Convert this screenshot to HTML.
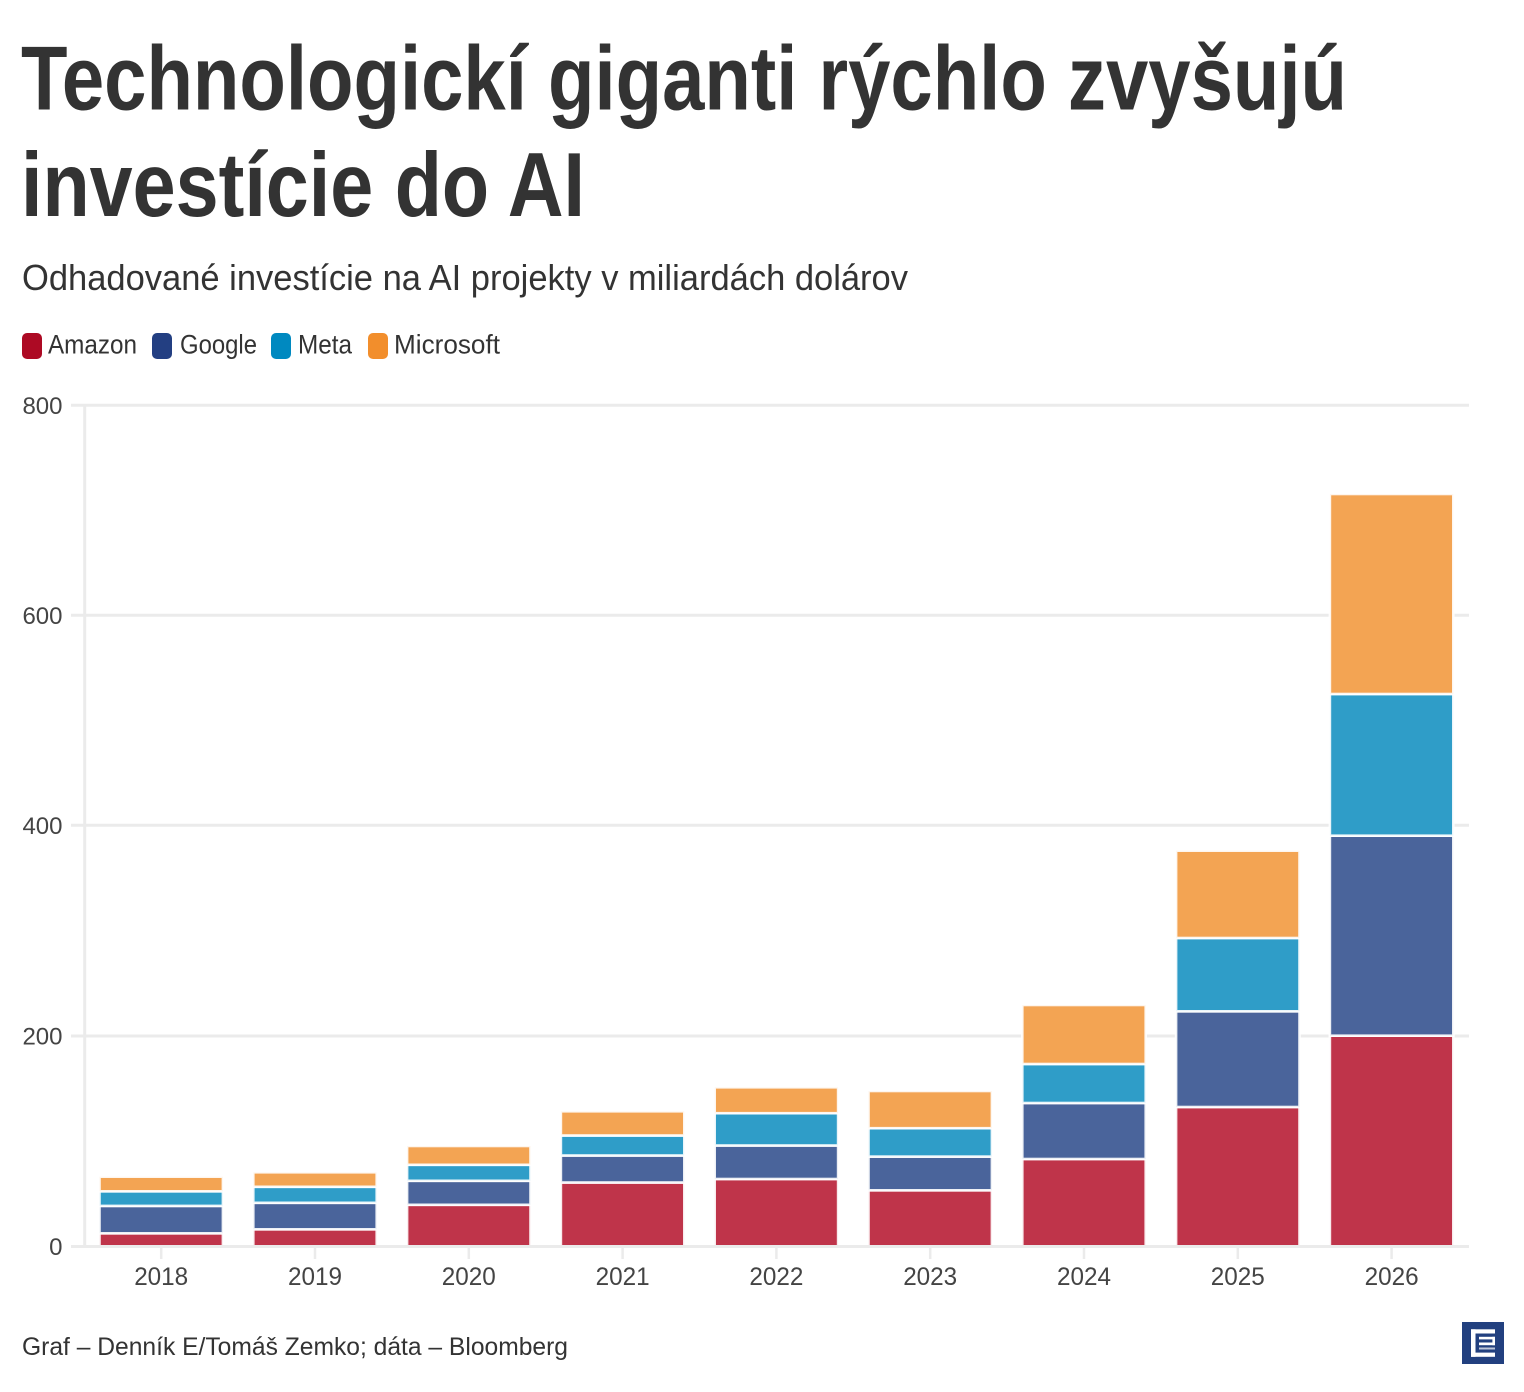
<!DOCTYPE html>
<html><head><meta charset="utf-8"><style>
html,body{margin:0;padding:0;background:#fff;}
svg{display:block;}
</style></head><body>
<svg width="1524" height="1392" viewBox="0 0 1524 1392" xmlns="http://www.w3.org/2000/svg" font-family="'Liberation Sans', 'DejaVu Sans', sans-serif">
<rect width="1524" height="1392" fill="#fff"/>
<!-- Title -->
<text x="21" y="109.5" font-size="91" font-weight="bold" fill="#333333" textLength="1326" lengthAdjust="spacingAndGlyphs">Technologickí giganti rýchlo zvyšujú</text>
<text x="21" y="216" font-size="91" font-weight="bold" fill="#333333" textLength="564" lengthAdjust="spacingAndGlyphs">investície do AI</text>
<!-- Subtitle -->
<text x="22" y="290" font-size="36" fill="#333333" textLength="886" lengthAdjust="spacingAndGlyphs">Odhadované investície na AI projekty v miliardách dolárov</text>
<!-- Legend -->
<rect x="22" y="333" width="20" height="26" rx="5" fill="#ad0a24"/>
<text x="48" y="353.5" font-size="26.5" fill="#333" textLength="89" lengthAdjust="spacingAndGlyphs">Amazon</text>
<rect x="152" y="333" width="20" height="26" rx="5" fill="#233f82"/>
<text x="180" y="353.5" font-size="26.5" fill="#333" textLength="77" lengthAdjust="spacingAndGlyphs">Google</text>
<rect x="271" y="333" width="20" height="26" rx="5" fill="#0089c0"/>
<text x="298" y="353.5" font-size="26.5" fill="#333" textLength="54" lengthAdjust="spacingAndGlyphs">Meta</text>
<rect x="368" y="333" width="20" height="26" rx="5" fill="#f28e2c"/>
<text x="394" y="353.5" font-size="26.5" fill="#333" textLength="106" lengthAdjust="spacingAndGlyphs">Microsoft</text>

<!-- Gridlines -->
<g stroke="#ebebeb" stroke-width="3">
<line x1="71" y1="405.3" x2="1469" y2="405.3"/>
<line x1="71" y1="615.3" x2="1469" y2="615.3"/>
<line x1="71" y1="825.3" x2="1469" y2="825.3"/>
<line x1="71" y1="1036" x2="1469" y2="1036"/>
<line x1="84.7" y1="404" x2="84.7" y2="1246"/>
</g>

<!-- Y labels -->
<g font-size="24" fill="#444" text-anchor="end">
<text x="62.5" y="413.8">800</text>
<text x="62.5" y="623.8">600</text>
<text x="62.5" y="833.8">400</text>
<text x="62.5" y="1044.5">200</text>
<text x="62.5" y="1255">0</text>
</g>

<!-- Bars -->
<g stroke="#ffffff" stroke-width="2.6" stroke-opacity="0.9">
<!-- 2018 c=161.6 -->
<rect x="99.5" y="1233.3" width="123.4" height="13" fill="#bf344a"/>
<rect x="99.5" y="1205.9" width="123.4" height="27.4" fill="#4a649b"/>
<rect x="99.5" y="1191.3" width="123.4" height="14.6" fill="#2f9dc8"/>
<rect x="99.5" y="1176.7" width="123.4" height="14.6" fill="#f3a453"/>
<!-- 2019 -->
<rect x="253.3" y="1229.3" width="123.4" height="17" fill="#bf344a"/>
<rect x="253.3" y="1202.8" width="123.4" height="26.5" fill="#4a649b"/>
<rect x="253.3" y="1186.8" width="123.4" height="16" fill="#2f9dc8"/>
<rect x="253.3" y="1172.3" width="123.4" height="14.5" fill="#f3a453"/>
<!-- 2020 -->
<rect x="407.1" y="1204.8" width="123.4" height="41.5" fill="#bf344a"/>
<rect x="407.1" y="1180.8" width="123.4" height="24" fill="#4a649b"/>
<rect x="407.1" y="1164.8" width="123.4" height="16" fill="#2f9dc8"/>
<rect x="407.1" y="1146" width="123.4" height="18.8" fill="#f3a453"/>
<!-- 2021 -->
<rect x="560.9" y="1182.5" width="123.4" height="63.8" fill="#bf344a"/>
<rect x="560.9" y="1155.5" width="123.4" height="27" fill="#4a649b"/>
<rect x="560.9" y="1135.5" width="123.4" height="20" fill="#2f9dc8"/>
<rect x="560.9" y="1111.3" width="123.4" height="24.2" fill="#f3a453"/>
<!-- 2022 -->
<rect x="714.7" y="1179" width="123.4" height="67.3" fill="#bf344a"/>
<rect x="714.7" y="1145.5" width="123.4" height="33.5" fill="#4a649b"/>
<rect x="714.7" y="1113.2" width="123.4" height="32.3" fill="#2f9dc8"/>
<rect x="714.7" y="1087.3" width="123.4" height="25.9" fill="#f3a453"/>
<!-- 2023 -->
<rect x="868.5" y="1190.3" width="123.4" height="56" fill="#bf344a"/>
<rect x="868.5" y="1156.6" width="123.4" height="33.7" fill="#4a649b"/>
<rect x="868.5" y="1128.2" width="123.4" height="28.4" fill="#2f9dc8"/>
<rect x="868.5" y="1091" width="123.4" height="37.2" fill="#f3a453"/>
<!-- 2024 -->
<rect x="1022.3" y="1159" width="123.4" height="87.3" fill="#bf344a"/>
<rect x="1022.3" y="1103" width="123.4" height="56" fill="#4a649b"/>
<rect x="1022.3" y="1064" width="123.4" height="39" fill="#2f9dc8"/>
<rect x="1022.3" y="1005" width="123.4" height="59" fill="#f3a453"/>
<!-- 2025 -->
<rect x="1176.1" y="1107" width="123.4" height="139.3" fill="#bf344a"/>
<rect x="1176.1" y="1011.3" width="123.4" height="95.7" fill="#4a649b"/>
<rect x="1176.1" y="938" width="123.4" height="73.3" fill="#2f9dc8"/>
<rect x="1176.1" y="850.7" width="123.4" height="87.3" fill="#f3a453"/>
<!-- 2026 -->
<rect x="1329.9" y="1035.7" width="123.4" height="210.6" fill="#bf344a"/>
<rect x="1329.9" y="835.7" width="123.4" height="200" fill="#4a649b"/>
<rect x="1329.9" y="694" width="123.4" height="141.7" fill="#2f9dc8"/>
<rect x="1329.9" y="494" width="123.4" height="200" fill="#f3a453"/>
</g>

<!-- X axis -->
<line x1="71" y1="1246.5" x2="1469" y2="1246.5" stroke="#ebebeb" stroke-width="3"/>
<g stroke="#ebebeb" stroke-width="2.5">
<line x1="161.2" y1="1248" x2="161.2" y2="1259"/>
<line x1="315" y1="1248" x2="315" y2="1259"/>
<line x1="468.8" y1="1248" x2="468.8" y2="1259"/>
<line x1="622.6" y1="1248" x2="622.6" y2="1259"/>
<line x1="776.4" y1="1248" x2="776.4" y2="1259"/>
<line x1="930.2" y1="1248" x2="930.2" y2="1259"/>
<line x1="1084" y1="1248" x2="1084" y2="1259"/>
<line x1="1237.8" y1="1248" x2="1237.8" y2="1259"/>
<line x1="1391.6" y1="1248" x2="1391.6" y2="1259"/>
</g>
<g font-size="25" fill="#444" text-anchor="middle">
<text x="161.2" y="1285" textLength="54" lengthAdjust="spacingAndGlyphs">2018</text>
<text x="315" y="1285" textLength="54" lengthAdjust="spacingAndGlyphs">2019</text>
<text x="468.8" y="1285" textLength="54" lengthAdjust="spacingAndGlyphs">2020</text>
<text x="622.6" y="1285" textLength="54" lengthAdjust="spacingAndGlyphs">2021</text>
<text x="776.4" y="1285" textLength="54" lengthAdjust="spacingAndGlyphs">2022</text>
<text x="930.2" y="1285" textLength="54" lengthAdjust="spacingAndGlyphs">2023</text>
<text x="1084" y="1285" textLength="54" lengthAdjust="spacingAndGlyphs">2024</text>
<text x="1237.8" y="1285" textLength="54" lengthAdjust="spacingAndGlyphs">2025</text>
<text x="1391.6" y="1285" textLength="54" lengthAdjust="spacingAndGlyphs">2026</text>
</g>

<!-- Footer -->
<text x="22" y="1355" font-size="25" fill="#333" textLength="546" lengthAdjust="spacingAndGlyphs">Graf – Denník E/Tomáš Zemko; dáta – Bloomberg</text>

<!-- Logo -->
<rect x="1462" y="1322" width="42" height="42" fill="#22407f"/>
<g fill="#ffffff">
<rect x="1471" y="1329.3" width="24" height="4.2"/>
<rect x="1471" y="1329.3" width="4.5" height="27.5"/>
<rect x="1471" y="1352.6" width="24" height="4.2"/>
<rect x="1479" y="1336.8" width="16" height="2.6"/>
<rect x="1492.4" y="1336.8" width="2.6" height="8.4"/>
<rect x="1479" y="1342.5" width="16" height="2.7"/>
<rect x="1479" y="1347.5" width="16" height="2" opacity="0.7"/>
</g>
</svg>
</body></html>
